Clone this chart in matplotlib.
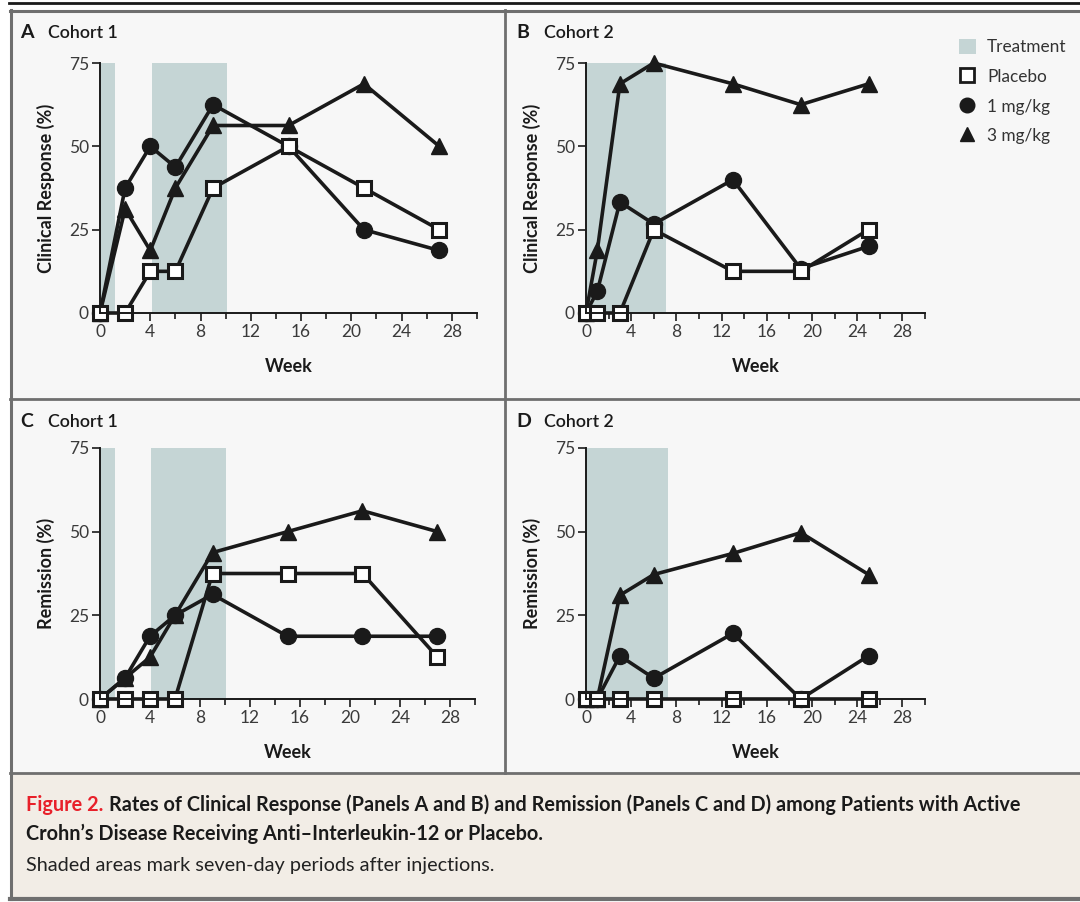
import matplotlib
matplotlib.use('Agg')
import matplotlib.pyplot as plt
import matplotlib.patches as mpatches
from matplotlib.lines import Line2D
from matplotlib.ticker import MultipleLocator

plt.rcParams['font.family'] = ['Lato', 'DejaVu Sans']

W, H = 1080, 902

# ---- data (week, percent) ----
weeks_c1 = [0, 2, 4, 6, 9, 15, 21, 27]
weeks_c2 = [0, 1, 3, 6, 13, 19, 25]

resp_c1_placebo = [0, 0, 12.5, 12.5, 37.5, 50, 37.5, 25]
resp_c1_1mg = [0, 37.5, 50, 43.75, 62.5, 50, 25, 18.75]
resp_c1_3mg = [0, 31.25, 18.75, 37.5, 56.25, 56.25, 68.75, 50]

resp_c2_placebo = [0, 0, 0, 25, 12.5, 12.5, 25]
resp_c2_1mg = [0, 6.5, 33.3, 26.7, 40, 13.3, 20]
resp_c2_3mg = [0, 18.75, 68.75, 75, 68.75, 62.5, 68.75]

rem_c1_placebo = [0, 0, 0, 0, 37.5, 37.5, 37.5, 12.5]
rem_c1_1mg = [0, 6.25, 18.75, 25, 31.25, 18.75, 18.75, 18.75]
rem_c1_3mg = [0, 6.25, 12.5, 25, 43.75, 50, 56.25, 50]

rem_c2_placebo = [0, 0, 0, 0, 0, 0, 0]
rem_c2_1mg = [0, 0, 12.9, 6.2, 19.6, 0, 12.9]
rem_c2_3mg = [0, 0, 31, 37.2, 43.5, 49.7, 37.2]

# treatment periods (start week, end week)
shade_c1 = [(0, 1.2), (4.1, 10.1)]
shade_c2 = [(0, 7.1)]
shade_c2_rem = [(0, 7.3)]

SHADE = '#c5d5d5'
PANEL_BG = '#f7f7f7'
CAPTION_BG = '#f2ede6'
FRAME = '#6f6f6f'
INK = '#1a1a1a'


def fx(x):
    return x / W


def fy(y):
    return 1 - y / H


fig = plt.figure(figsize=(W / 100, H / 100), dpi=100)

# background boxes and frame
fig.patches.append(mpatches.Rectangle((fx(10), fy(773)), fx(1075), 763 / H,
                                      transform=fig.transFigure,
                                      facecolor=PANEL_BG, edgecolor='none', zorder=-5))
fig.patches.append(mpatches.Rectangle((fx(10), fy(899)), fx(1075), 126 / H,
                                      transform=fig.transFigure,
                                      facecolor=CAPTION_BG, edgecolor='none', zorder=-5))
frame_lines = [
    ([9, 1080], [3, 3], INK, 2.0),
    ([10, 1080], [10.5, 10.5], FRAME, 2.2),
    ([10.5, 10.5], [10, 899], FRAME, 2.2),
    ([505, 505], [10, 773], FRAME, 2.0),
    ([10, 1080], [399, 399], FRAME, 2.0),
    ([10, 1080], [773, 773], FRAME, 2.0),
    ([10, 1080], [899, 899], FRAME, 3.0),
]
for xs, ys, col, lw in frame_lines:
    fig.add_artist(Line2D([fx(v) for v in xs], [fy(v) for v in ys],
                          transform=fig.transFigure, color=col, lw=lw, zorder=-4))


def make_axes(x0, x30, y75, y0):
    return fig.add_axes([fx(x0), fy(y0), (x30 - x0) / W, (y0 - y75) / H])


def draw_panel(ax, weeks, placebo, mg1, mg3, shades, ylabel):
    ax.set_facecolor('none')
    for a, b in shades:
        ax.axvspan(a, b, ymin=0, ymax=1, color=SHADE, lw=0, zorder=0)
    kw = dict(color=INK, lw=2.6, clip_on=False)
    ax.plot(weeks, mg3, marker='^', ms=11, zorder=2, **kw)
    ax.plot(weeks, mg1, marker='o', ms=11.5, zorder=2.1, **kw)
    ax.plot(weeks, placebo, marker='s', ms=10.5, mfc='white', mec=INK, mew=2.2,
            zorder=2.2, **kw)
    ax.set_xlim(0, 30)
    ax.set_ylim(0, 75)
    ax.set_xticks([0, 4, 8, 12, 16, 20, 24, 28])
    ax.xaxis.set_minor_locator(MultipleLocator(2))
    ax.set_yticks([0, 25, 50, 75])
    for s in ('top', 'right'):
        ax.spines[s].set_visible(False)
    for s in ('left', 'bottom'):
        ax.spines[s].set_color(INK)
        ax.spines[s].set_linewidth(1.4)
        ax.spines[s].set_zorder(3)
    ax.tick_params(axis='both', which='major', length=6, width=1.2,
                   color=INK, labelsize=12.5, labelcolor='#3a3a3a', pad=2)
    ax.tick_params(axis='x', which='minor', length=4, width=1.2, color=INK)
    ax.set_xlabel('Week', fontsize=13, fontweight='bold', color=INK, labelpad=13)
    ax.set_ylabel(ylabel, fontsize=13, fontweight='bold', color=INK, labelpad=10)


ax_a = make_axes(100, 477, 63, 313)
draw_panel(ax_a, weeks_c1, resp_c1_placebo, resp_c1_1mg, resp_c1_3mg,
           shade_c1, 'Clinical Response (%)')
ax_b = make_axes(586, 925, 63, 313)
draw_panel(ax_b, weeks_c2, resp_c2_placebo, resp_c2_1mg, resp_c2_3mg,
           shade_c2, 'Clinical Response (%)')
ax_c = make_axes(100, 475, 448, 699)
draw_panel(ax_c, weeks_c1, rem_c1_placebo, rem_c1_1mg, rem_c1_3mg,
           shade_c1, 'Remission (%)')
ax_d = make_axes(586, 925, 448, 699)
draw_panel(ax_d, weeks_c2, rem_c2_placebo, rem_c2_1mg, rem_c2_3mg,
           shade_c2_rem, 'Remission (%)')

# panel titles
for letter, title, x, y in [('A', 'Cohort 1', 20, 33), ('B', 'Cohort 2', 516, 33),
                            ('C', 'Cohort 1', 20, 422), ('D', 'Cohort 2', 516, 422)]:
    fig.text(fx(x), fy(y), letter, fontsize=14, fontweight='bold',
             color=INK, va='center', ha='left')
    fig.text(fx(x + 28), fy(y), title, fontsize=12.8, fontweight='semibold',
             color=INK, va='center', ha='left')

# legend
handles = [
    mpatches.Patch(facecolor=SHADE, edgecolor='none', label='Treatment'),
    Line2D([], [], ls='none', marker='s', ms=10, mfc='white', mec=INK, mew=2,
           label='Placebo'),
    Line2D([], [], ls='none', marker='o', ms=10.5, color=INK, label='1 mg/kg'),
    Line2D([], [], ls='none', marker='^', ms=10, color=INK, label='3 mg/kg'),
]
fig.legend(handles=handles, loc='upper left', bbox_to_anchor=(fx(950), fy(30)),
           frameon=False, fontsize=12.4, handlelength=1.0, handleheight=1.0,
           handletextpad=0.65, labelspacing=0.76, borderpad=0, labelcolor='#333333')

# caption
fig.text(fx(26), fy(805), 'Figure 2.', fontsize=14.3, fontweight='bold',
         color='#e8202a', va='center', ha='left')
fig.text(fx(109), fy(805),
         'Rates of Clinical Response (Panels A and B) and Remission (Panels C and D) '
         'among Patients with Active',
         fontsize=14.3, fontweight='bold', color=INK, va='center', ha='left')
fig.text(fx(26), fy(834), 'Crohn\u2019s Disease Receiving Anti\u2013Interleukin-12 or Placebo.',
         fontsize=14.3, fontweight='bold', color=INK, va='center', ha='left')
fig.text(fx(26), fy(865), 'Shaded areas mark seven-day periods after injections.',
         fontsize=14.3, color='#222222', va='center', ha='left')

fig.savefig('out.png', dpi=100)
